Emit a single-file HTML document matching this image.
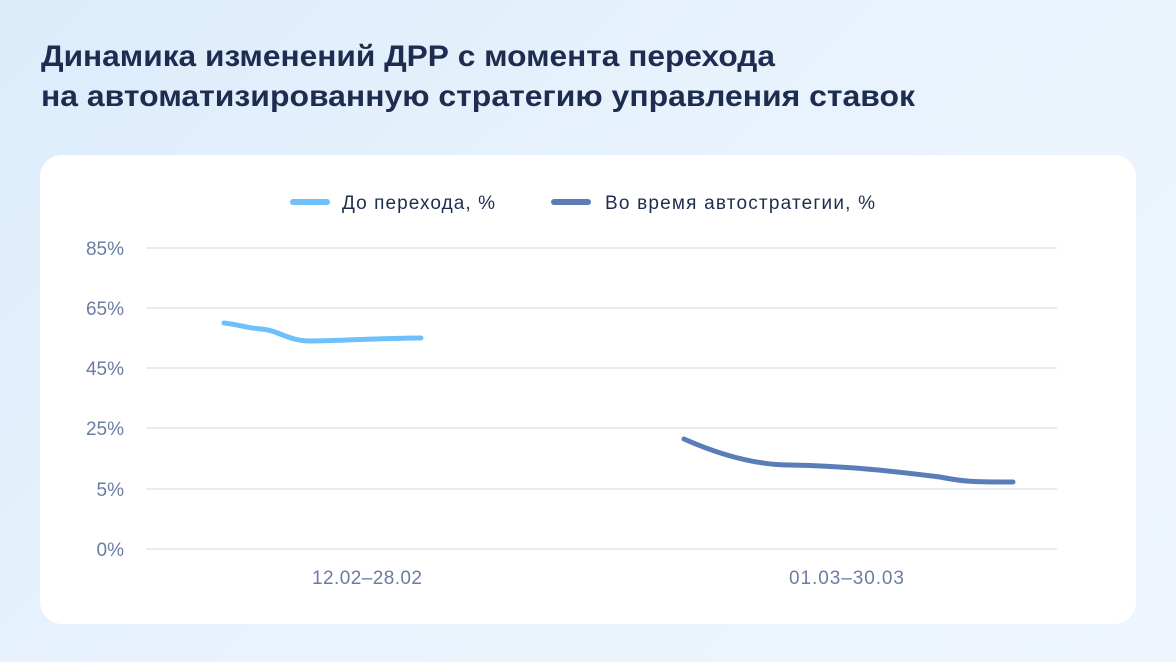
<!DOCTYPE html>
<html><head><meta charset="utf-8"><style>
html,body{margin:0;padding:0}
body{width:1176px;height:662px;overflow:hidden;background:linear-gradient(135deg,#dcecfb 0%,#e9f3fd 50%,#eef5fd 100%);font-family:"Liberation Sans",sans-serif;position:relative}
.card{position:absolute;left:40px;top:155px;width:1096px;height:469px;background:#fff;border-radius:22px}
</style></head><body>
<div class="card"></div>
<svg width="1176" height="662" style="position:absolute;left:0;top:0" font-family="Liberation Sans, sans-serif">
<g fill="#1e2d4f" font-size="30" font-weight="bold">
<text x="41" y="66" textLength="734" lengthAdjust="spacingAndGlyphs">Динамика изменений ДРР с момента перехода</text>
<text x="41" y="106" textLength="874" lengthAdjust="spacingAndGlyphs">на автоматизированную стратегию управления ставок</text>
</g>
<g stroke="#d5e0ee" stroke-width="1.3">
<line x1="146" x2="1057" y1="248" y2="248"/>
<line x1="146" x2="1057" y1="308" y2="308"/>
<line x1="146" x2="1057" y1="368" y2="368"/>
<line x1="146" x2="1057" y1="428" y2="428"/>
<line x1="146" x2="1057" y1="489" y2="489"/>
<line x1="146" x2="1057" y1="549" y2="549"/>
</g>
<g fill="#6b7ca3" font-size="19" text-anchor="end">
<text x="124" y="255">85%</text><text x="124" y="315">65%</text><text x="124" y="375">45%</text>
<text x="124" y="435">25%</text><text x="124" y="496">5%</text><text x="124" y="556">0%</text>
</g>
<g fill="#6b7ca3" font-size="19">
<text x="312" y="584" textLength="110">12.02–28.02</text><text x="789" y="584" textLength="115">01.03–30.03</text>
</g>
<line x1="293" x2="327" y1="202" y2="202" stroke="#6ec0fb" stroke-width="6" stroke-linecap="round"/>
<text x="342" y="209" font-size="19" fill="#1e2d4f" textLength="153">До перехода, %</text>
<line x1="554" x2="588" y1="202" y2="202" stroke="#5a7db8" stroke-width="6" stroke-linecap="round"/>
<text x="605" y="209" font-size="19" fill="#1e2d4f" textLength="270">Во время автостратегии, %</text>
<path d="M224 323 C235 324 245 327 252 328 C260 329 268 329 275 332 C290 338 298 341 310 341 C340 341 380 338 421 338" fill="none" stroke="#6ec0fb" stroke-width="5" stroke-linecap="round"/>
<path d="M684 439 C720 455 755 465 790 465 C850 466 900 472 940 477 C965 482 975 482 1013 482" fill="none" stroke="#5a7db8" stroke-width="5" stroke-linecap="round"/>
</svg>
</body></html>
